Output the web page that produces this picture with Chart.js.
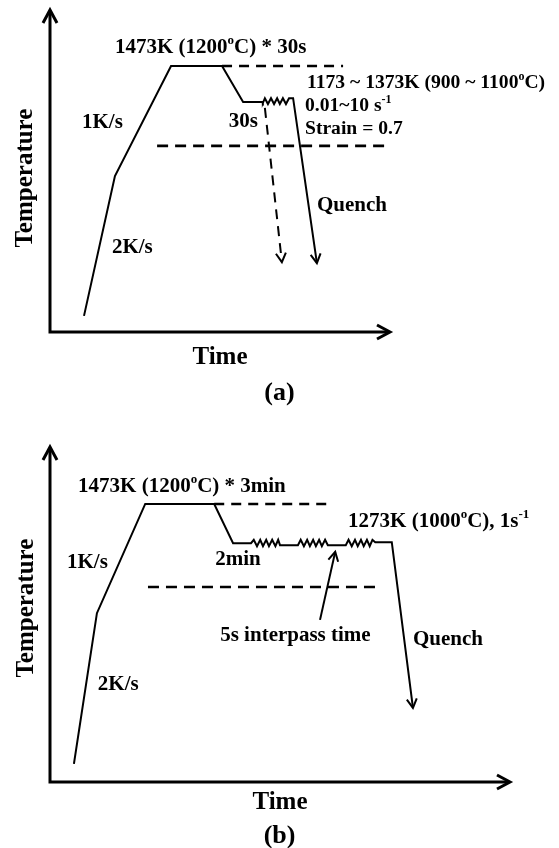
<!DOCTYPE html>
<html>
<head>
<meta charset="utf-8">
<script src="https://cdn.jsdelivr.net/npm/chart.js@4/dist/chart.umd.min.js"></script>
<style>
  html, body { margin: 0; padding: 0; background: #fff; }
  body { position: relative; width: 559px; height: 848px; overflow: hidden; }
  canvas { display: block; position: absolute; left: 0; }
  #chartA { top: 0; }
  #chartB { top: 400px; }
</style>
</head>
<body>
<canvas id="chartA" width="559" height="420"></canvas>
<canvas id="chartB" width="559" height="448"></canvas>
<script>
// Schematic thermal cycles, time (x) vs temperature (y), both in arbitrary units 0..100.

// ---- (a) single-hit compression ----
const heatA     = [[10.0, 5.0], [19.1, 48.4], [35.6, 82.6], [50.6, 82.6], [56.8, 71.4], [62.4, 71.4]];
const springA   = [[62.4, 71.4], [62.6, 71.1], [63.2, 72.6], [64.1, 70.8], [65.0, 72.6], [65.9, 70.8],
                   [66.8, 72.6], [67.6, 70.8], [68.5, 72.6], [69.4, 70.8], [70.3, 72.6], [71.5, 72.6]];
const quenchA   = [[71.5, 72.6], [78.5, 21.4]];
const quenchA2  = [[63.2, 69.6], [68.2, 21.7]];
const soakLineA = [[50.6, 82.6], [86.2, 82.6]];
const defLineA  = [[31.5, 57.8], [100.0, 57.8]];

// ---- (b) multi-pass compression ----
const heatB     = [[5.2, 5.4], [10.2, 50.4], [20.7, 83.0], [35.7, 83.0], [39.8, 71.3], [43.7, 71.3]];
const pass1B    = [[43.7, 71.3], [44.3, 72.3], [45.0, 70.4], [45.7, 72.3], [46.3, 70.4], [47.0, 72.3],
                   [47.6, 70.4], [48.3, 72.3], [49.0, 70.4], [49.6, 72.3], [50.0, 70.7], [53.9, 70.7]];
const pass2B    = [[53.9, 70.7], [54.5, 72.3], [55.2, 70.4], [55.9, 72.3], [56.5, 70.4], [57.2, 72.3],
                   [57.8, 70.4], [58.5, 72.3], [59.1, 70.4], [59.8, 72.3], [60.4, 70.7], [64.3, 70.7]];
const pass3B    = [[64.3, 70.7], [64.9, 72.3], [65.6, 70.4], [66.3, 72.3], [66.9, 70.4], [67.6, 72.3],
                   [68.2, 70.4], [68.9, 72.3], [69.5, 70.4], [70.1, 72.3], [70.7, 71.6], [74.3, 71.6]];
const quenchB   = [[74.3, 71.6], [78.9, 22.1]];
const soakLineB = [[35.7, 83.0], [60.4, 83.0]];
const defLineB  = [[21.3, 58.2], [70.7, 58.2]];
const pointerB  = [[58.7, 48.4], [62.0, 68.7]];

// ---- annotation texts (^{...} = superscript) and their anchors in data units ----
const notesA = [
  { text: '1473K (1200^{o}C) * 30s',          at: [19.1, 88.2] },
  { text: '1173 ~ 1373K (900 ~ 1100^{o}C)',   at: [75.6, 77.3], small: true },
  { text: '0.01~10 s^{-1}',                   at: [75.0, 70.2], small: true },
  { text: 'Strain = 0.7',                     at: [75.0, 63.0], small: true },
  { text: '1K/s',                             at: [9.4, 64.9] },
  { text: '2K/s',                             at: [18.2, 26.1] },
  { text: '30s',                              at: [52.6, 65.2] },
  { text: 'Quench',                           at: [78.5, 39.4] }
];
const notesB = [
  { text: '1473K (1200^{o}C) * 3min',         at: [6.1, 88.1] },
  { text: '1273K (1000^{o}C), 1s^{-1}',       at: [64.8, 77.6] },
  { text: '1K/s',                             at: [3.7, 65.4] },
  { text: '2K/s',                             at: [10.4, 29.0] },
  { text: '2min',                             at: [35.9, 66.3] },
  { text: '5s interpass time',                at: [37.0, 43.6] },
  { text: 'Quench',                           at: [78.9, 42.4] }
];
const axisTitles = { x: 'Time', y: 'Temperature' };
const panelTags = ['(a)', '(b)'];

const FONT = '"Liberation Serif", "Times New Roman", serif';

function drawRich(ctx, str, x, y, size, align) {
  const parts = str.split(/(\^\{[^}]*\})/).filter(s => s.length).map(s =>
    s.startsWith('^{') ? { t: s.slice(2, -1), sup: true } : { t: s, sup: false });
  let w = 0;
  parts.forEach(p => {
    p.size = p.sup ? Math.round(size * 0.6) : size;
    ctx.font = `bold ${p.size}px ${FONT}`;
    p.w = ctx.measureText(p.t).width;
    w += p.w;
  });
  let cx = align === 'center' ? x - w / 2 : x;
  ctx.textAlign = 'left';
  ctx.textBaseline = 'middle';
  parts.forEach(p => {
    ctx.font = `bold ${p.size}px ${FONT}`;
    ctx.fillText(p.t, cx, p.sup ? y - size * 0.33 : y);
    cx += p.w;
  });
}

function arrowHead(ctx, fromX, fromY, tipX, tipY, back, half, width) {
  const a = Math.atan2(tipY - fromY, tipX - fromX);
  const ca = Math.cos(a), sa = Math.sin(a);
  ctx.save();
  ctx.lineWidth = width;
  ctx.strokeStyle = '#000';
  ctx.setLineDash([]);
  ctx.lineJoin = 'miter';
  ctx.lineCap = 'butt';
  ctx.beginPath();
  ctx.moveTo(tipX - back * ca - half * sa, tipY - back * sa + half * ca);
  ctx.lineTo(tipX, tipY);
  ctx.lineTo(tipX - back * ca + half * sa, tipY - back * sa - half * ca);
  ctx.stroke();
  ctx.restore();
}

// Draws the arrowed axes, the arrowheads at dataset ends and all the texts.
const schematicPlugin = {
  id: 'schematic',
  afterDatasetsDraw(chart) {
    const ctx = chart.ctx;
    const xs = chart.scales.x, ys = chart.scales.y;
    const cfg = chart.options.plugins.schematic;
    const x0 = xs.getPixelForValue(0), x1 = xs.getPixelForValue(100);
    const y0 = ys.getPixelForValue(0), y1 = ys.getPixelForValue(100);

    // axes
    ctx.save();
    ctx.strokeStyle = '#000';
    ctx.lineWidth = 3;
    ctx.lineJoin = 'miter';
    ctx.beginPath();
    ctx.moveTo(x0, y1 + 1);
    ctx.lineTo(x0, y0);
    ctx.lineTo(x1 - 1, y0);
    ctx.stroke();
    ctx.restore();
    arrowHead(ctx, x0, y0, x0, y1, 13, 7, 3);
    arrowHead(ctx, x0, y0, x1, y0, 13, 7, 3);

    // arrowheads on dataset ends
    chart.data.datasets.forEach((ds, i) => {
      if (!ds.arrow) return;
      const pts = chart.getDatasetMeta(i).data;
      const a = pts[pts.length - 2], b = pts[pts.length - 1];
      arrowHead(ctx, a.x, a.y, b.x, b.y, 9, 5, 2);
    });

    // texts
    ctx.save();
    ctx.fillStyle = '#000';
    cfg.notes.forEach(n => {
      drawRich(ctx, n.text, xs.getPixelForValue(n.at[0]), ys.getPixelForValue(n.at[1]),
               n.small ? 19.6 : 21, 'left');
    });
    drawRich(ctx, axisTitles.x, xs.getPixelForValue(50), ys.getPixelForValue(cfg.xTitleY), 25, 'center');
    drawRich(ctx, cfg.tag, xs.getPixelForValue(cfg.tagAt[0]), ys.getPixelForValue(cfg.tagAt[1]), 26, 'center');
    ctx.translate(xs.getPixelForValue(cfg.yTitleAt[0]), ys.getPixelForValue(cfg.yTitleAt[1]));
    ctx.rotate(-Math.PI / 2);
    drawRich(ctx, axisTitles.y, 0, 0, 25, 'center');
    ctx.restore();
  }
};

function line(points, opts = {}) {
  return Object.assign({
    data: points.map(([x, y]) => ({ x, y })),
    showLine: true,
    borderColor: '#000',
    borderWidth: 2,
    pointRadius: 0,
    pointHoverRadius: 0,
    fill: false,
    tension: 0,
    clip: false,
    borderJoinStyle: 'miter'
  }, opts);
}

const dashSoak = { borderDash: [10, 7], borderWidth: 2.6 };
const dashDef  = { borderDash: [11, 7], borderWidth: 2.6 };

function makeChart(id, datasets, padding, plug) {
  return new Chart(document.getElementById(id), {
    type: 'scatter',
    data: { datasets },
    options: {
      responsive: false,
      devicePixelRatio: 1,
      animation: false,
      events: [],
      layout: { padding },
      scales: {
        x: { type: 'linear', min: 0, max: 100, display: false },
        y: { type: 'linear', min: 0, max: 100, display: false }
      },
      plugins: { legend: { display: false }, tooltip: { enabled: false }, schematic: plug }
    },
    plugins: [schematicPlugin]
  });
}

makeChart('chartA', [
  line(heatA.concat(springA.slice(1), quenchA.slice(1)), { arrow: true }),
  line(quenchA2, { borderDash: [10, 7], arrow: true }),
  line(soakLineA, dashSoak),
  line(defLineA, dashDef)
], { left: 50, right: 169, top: 10, bottom: 88 }, {
  notes: notesA, tag: panelTags[0], tagAt: [67.5, -18.9], xTitleY: -7.8, yTitleAt: [-7.1, 47.8]
});

makeChart('chartB', [
  line(heatB.concat(pass1B.slice(1), pass2B.slice(1), pass3B.slice(1), quenchB.slice(1)), { arrow: true }),
  line(pointerB, { arrow: true }),
  line(soakLineB, dashSoak),
  line(defLineB, dashDef)
], { left: 50, right: 49, top: 47, bottom: 66 }, {
  notes: notesB, tag: panelTags[1], tagAt: [49.9, -16.1], xTitleY: -6.0, yTitleAt: [-5.2, 51.9]
});
</script>
</body>
</html>
